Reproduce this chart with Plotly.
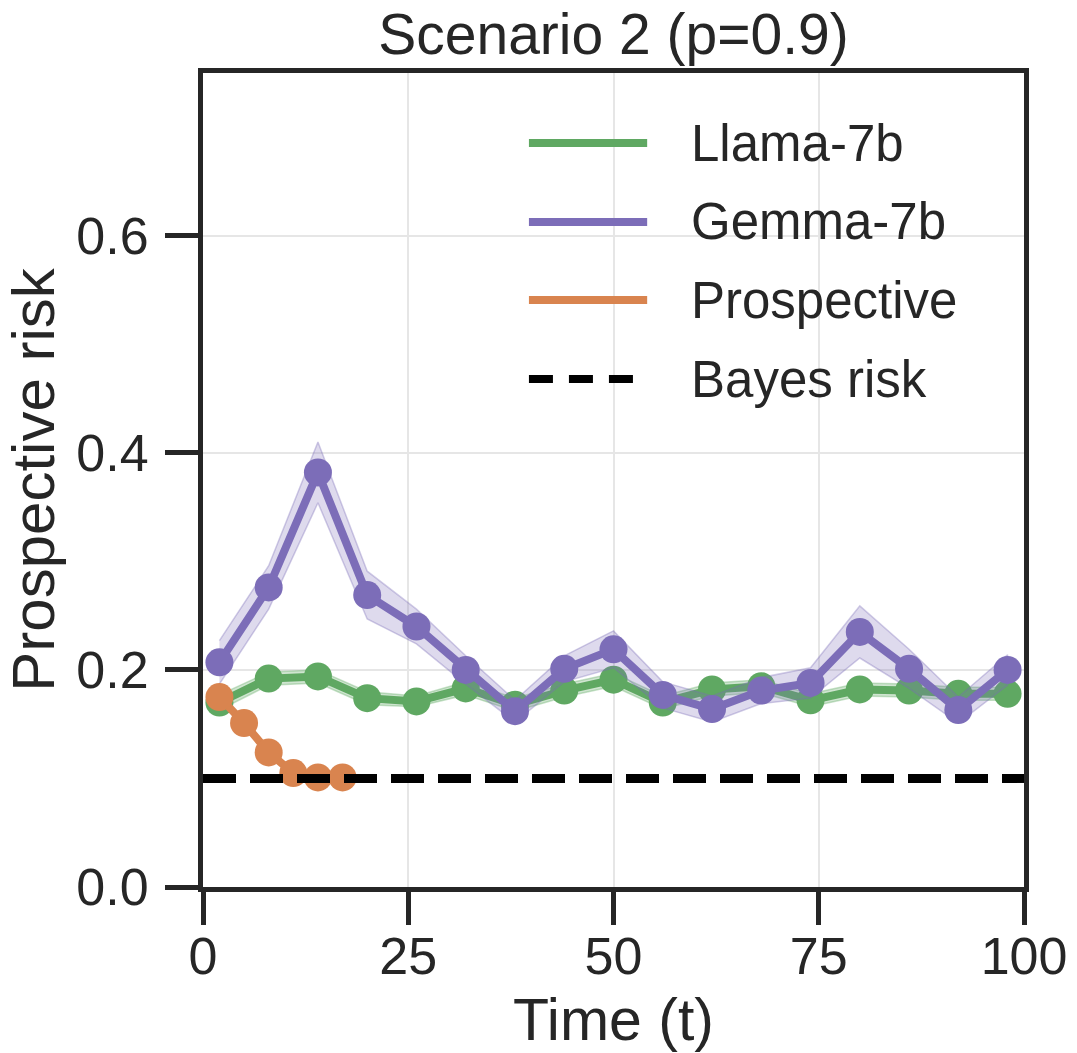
import plotly.graph_objects as go

# ---------------- data ----------------
t_models = [2, 8, 14, 20, 26, 32, 38, 44, 50, 56, 62, 68, 74, 80, 86, 92, 98]
llama_mean = [0.170, 0.192, 0.194, 0.174, 0.171, 0.183, 0.168, 0.181, 0.191, 0.170,
              0.182, 0.185, 0.172, 0.182, 0.181, 0.178, 0.178]
llama_err = [0.007, 0.006, 0.006, 0.006, 0.005, 0.006, 0.006, 0.006, 0.006, 0.006,
             0.006, 0.006, 0.006, 0.006, 0.006, 0.006, 0.006]
gemma_mean = [0.207, 0.276, 0.382, 0.269, 0.240, 0.200, 0.162, 0.201, 0.219, 0.177,
              0.164, 0.181, 0.188, 0.235, 0.201, 0.163, 0.200]
gemma_err = [0.020, 0.020, 0.028, 0.022, 0.016, 0.013, 0.010, 0.012, 0.017, 0.012,
             0.012, 0.012, 0.014, 0.024, 0.018, 0.012, 0.014]
t_prosp = [2, 5, 8, 11, 14, 17]
prosp_mean = [0.175, 0.151, 0.124, 0.105, 0.101, 0.101]
bayes_t = [0, 100]
bayes_risk = 0.1

series_names = ["Llama-7b", "Gemma-7b", "Prospective", "Bayes risk"]
x_ticks = [0, 25, 50, 75, 100]
y_ticks = [0.0, 0.2, 0.4, 0.6]

# ---------------- style ----------------
GREEN = "#5FA862"
PURPLE = "#7C6DB8"
ORANGE = "#D9844F"
INK = "#262626"
FONT = "Liberation Sans, Arial, sans-serif"

fig = go.Figure()


def band(x, m, e, fillcolor, edgecolor):
    up = [a + b for a, b in zip(m, e)]
    lo = [a - b for a, b in zip(m, e)]
    fig.add_trace(go.Scatter(
        x=list(x) + list(x)[::-1], y=up + lo[::-1], fill="toself",
        fillcolor=fillcolor, line=dict(color=edgecolor, width=1.5),
        mode="lines", hoverinfo="skip", showlegend=False))


band(t_models, llama_mean, llama_err, "rgba(95,168,98,0.30)", "rgba(95,168,98,0.35)")
fig.add_trace(go.Scatter(x=t_models, y=llama_mean, mode="lines+markers", name=series_names[0],
                         line=dict(color=GREEN, width=8), marker=dict(size=28, color=GREEN)))

band(t_models, gemma_mean, gemma_err, "rgba(124,109,184,0.25)", "rgba(124,109,184,0.35)")
fig.add_trace(go.Scatter(x=t_models, y=gemma_mean, mode="lines+markers", name=series_names[1],
                         line=dict(color=PURPLE, width=8), marker=dict(size=28, color=PURPLE)))

fig.add_trace(go.Scatter(x=t_prosp, y=prosp_mean, mode="lines+markers", name=series_names[2],
                         line=dict(color=ORANGE, width=8), marker=dict(size=28, color=ORANGE)))

fig.add_trace(go.Scatter(x=bayes_t, y=[bayes_risk] * len(bayes_t), mode="lines", name=series_names[3],
                         line=dict(color="black", width=9, dash="33px,14px")))

# ---------------- manual legend (long line samples as in reference) ----------------
leg_colors = [GREEN, PURPLE, ORANGE, "black"]
leg_dash = ["solid", "solid", "solid", "24px,16px"]
leg_y = [0.914, 0.817, 0.721, 0.624]
shapes = []
annotations = []
for name, c, d, yy in zip(series_names, leg_colors, leg_dash, leg_y):
    shapes.append(dict(type="line", xref="paper", yref="paper", x0=0.397, x1=0.541, y0=yy, y1=yy,
                       line=dict(color=c, width=8, dash=d)))
    annotations.append(dict(xref="paper", yref="paper", x=0.592, y=yy, text=name, showarrow=False,
                            xanchor="left", yanchor="middle",
                            font=dict(size=51, color=INK, family=FONT)))

axis_common = dict(
    showline=True, linewidth=5, linecolor=INK, mirror=True,
    ticks="outside", ticklen=33, tickwidth=5, tickcolor=INK,
    showgrid=True, gridcolor="#e6e6e6", gridwidth=2, zeroline=False,
    tickfont=dict(size=52, color=INK, family=FONT),
    automargin=False,
)

fig.update_layout(
    width=1077, height=1053,
    margin=dict(l=203, r=53, t=73, b=166, autoexpand=False),
    plot_bgcolor="white", paper_bgcolor="white",
    showlegend=False,
    font=dict(family=FONT, color=INK),
    title=dict(text="Scenario 2 (p=0.9)", x=0.5, xref="paper", xanchor="center",
               y=1 - 34 / 1053, yref="container", yanchor="middle",
               font=dict(size=57, color=INK, family=FONT)),
    xaxis=dict(range=[0, 100], tickvals=x_ticks, ticktext=[str(v) for v in x_ticks],
               title=dict(text="Time (t)", font=dict(size=59, color=INK, family=FONT), standoff=18),
               ticklabelstandoff=-13,
               **axis_common),
    yaxis=dict(range=[0, 0.75], tickvals=y_ticks, ticktext=[f"{v:.1f}" for v in y_ticks],
               title=dict(text="Prospective risk", font=dict(size=60, color=INK, family=FONT), standoff=10),
               ticklabelstandoff=6,
               **axis_common),
    shapes=shapes,
    annotations=annotations,
)

fig.write_html("out.html")
